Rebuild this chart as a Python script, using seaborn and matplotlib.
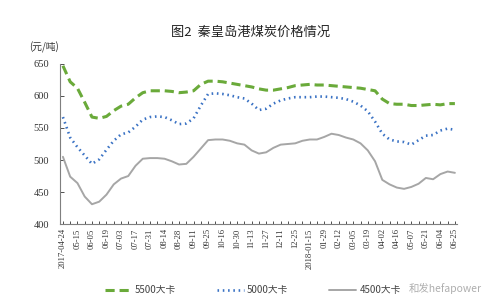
import matplotlib
matplotlib.use('Agg')
import matplotlib.pyplot as plt
import numpy as np
import pandas as pd
import seaborn as sns

# -------------------------
# Data (one value per week-ish sample)
# -------------------------
tick_labels = ["2017-04-24", "05-15", "06-05", "06-19", "07-03", "07-17", "07-31",
               "08-14", "08-28", "09-11", "09-25", "10-16", "10-30", "11-13",
               "11-27", "12-11", "12-25", "2018-01-15", "01-29", "02-12", "03-05",
               "03-19", "04-02", "04-16", "05-07", "05-21", "06-04", "06-25"]

price_5500 = [647, 622, 612, 590, 567, 565, 568, 577, 584, 587, 597, 605, 608, 608,
              608, 607, 605, 606, 608, 618, 623, 623, 622, 620, 618, 616, 614, 611,
              609, 609, 611, 613, 616, 617, 618, 617, 617, 616, 615, 614, 613, 612,
              610, 608, 595, 588, 587, 587, 585, 585, 586, 587, 586, 588, 588]

price_5000 = [567, 535, 520, 507, 494, 501, 516, 530, 540, 543, 552, 563, 567, 568,
              567, 562, 556, 557, 565, 585, 603, 604, 603, 601, 598, 596, 588, 578,
              580, 588, 593, 596, 598, 598, 598, 599, 599, 598, 597, 595, 591, 585,
              576, 560, 541, 532, 529, 528, 524, 531, 538, 539, 546, 549, 547]

price_4500 = [505, 474, 464, 443, 431, 435, 446, 462, 471, 475, 491, 502, 503, 503,
              502, 498, 493, 494, 505, 518, 531, 532, 532, 530, 526, 524, 515, 510,
              512, 519, 524, 525, 526, 530, 532, 532, 536, 541, 539, 535, 532, 526,
              515, 498, 469, 462, 457, 455, 458, 463, 472, 470, 478, 482, 480]

series_names = ["5500大卡", "5000大卡", "4500大卡"]

df = pd.DataFrame({
    "idx": np.arange(len(price_5500)),
    "5500大卡": price_5500,
    "5000大卡": price_5000,
    "4500大卡": price_4500,
}).melt(id_vars="idx", var_name="煤种", value_name="价格")

# -------------------------
# Plot
# -------------------------
sns.set_style("white")
plt.rcParams['font.family'] = ['Noto Sans CJK SC', 'DejaVu Sans']

fig = plt.figure(figsize=(4.92, 3.07), dpi=100)
ax = fig.add_axes([0.122, 0.27, 0.807, 0.522])

palette = {"5500大卡": "#6aaa3a", "5000大卡": "#3a72c4", "4500大卡": "#a6a6a6"}
dashes = {"5500大卡": (3.0, 1.6), "5000大卡": (0.6, 1.4), "4500大卡": ""}

sns.lineplot(data=df, x="idx", y="价格", hue="煤种", style="煤种",
             hue_order=series_names, style_order=series_names,
             palette=palette, dashes=dashes, ax=ax, legend=False)

widths = [2.2, 1.9, 1.4]
for line, w in zip(ax.lines, widths):
    line.set_linewidth(w)

ax.set_xlim(-0.4, len(price_5500) - 0.7)
ax.set_ylim(400, 650)
ax.set_yticks(range(400, 651, 50))
ax.set_xticks(np.arange(0, len(price_5500), 2))
ax.set_xticks(np.arange(1, len(price_5500), 2), minor=True)
ax.set_xticklabels(tick_labels, rotation=90, family=['Liberation Serif'], fontsize=6.2,
                   color="#333333")
for lab in ax.get_yticklabels():
    lab.set_family(['Liberation Serif'])
ax.tick_params(axis='y', labelsize=7.5, colors="#333333", direction='in', length=3,
               left=True, width=0.6, pad=8)
ax.tick_params(axis='x', which='both', direction='in', length=2.5, bottom=True,
               width=0.6, colors="#333333", pad=3)
ax.set_xlabel("")
ax.set_ylabel("")

sns.despine(ax=ax)
for s in ["left", "bottom"]:
    ax.spines[s].set_color("#7f7f7f")
    ax.spines[s].set_linewidth(0.8)

fig.text(0.51, 0.895, "图2  秦皇岛港煤炭价格情况", ha="center", va="center",
         fontsize=9.5, color="#222222")
fig.text(0.06, 0.845, "(元/吨)", ha="left", va="center", fontsize=7, color="#333333")

handles = [plt.Line2D([], [], color=palette[n], lw=w,
                      linestyle=(0, dashes[n]) if dashes[n] else "-")
           for n, w in zip(series_names, widths)]
fig.legend(handles, series_names, loc="center left", bbox_to_anchor=(0.195, 0.055),
           ncol=3, frameon=False, fontsize=7, handlelength=2.8, columnspacing=4.2,
           handletextpad=0.3, labelcolor="#444444")

fig.text(0.83, 0.062, "和发hefapower", ha="left", va="center", fontsize=7.5,
         color="#9a9a9a", alpha=0.8)

fig.savefig("out.png", dpi=100)
plt.close(fig)
